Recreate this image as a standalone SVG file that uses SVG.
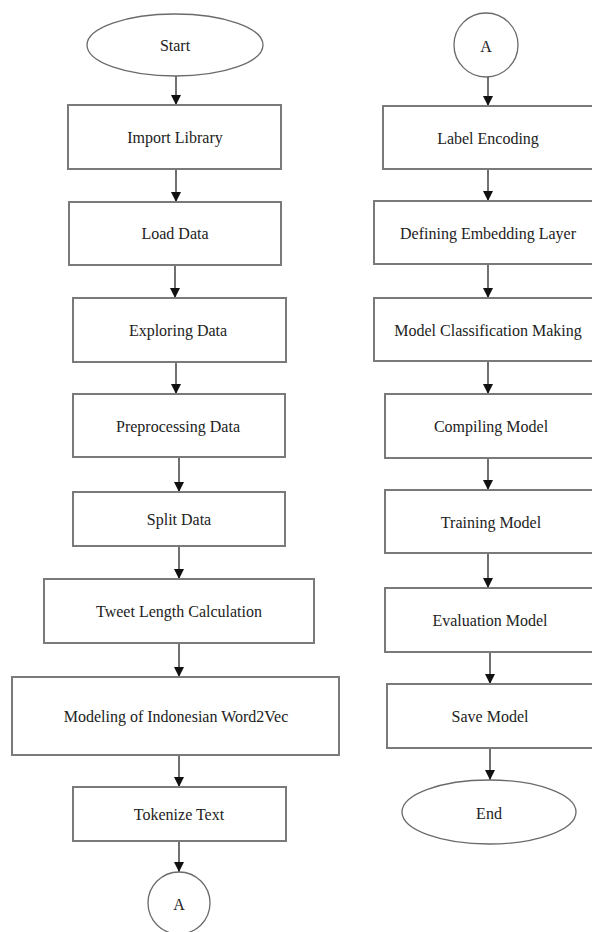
<svg xmlns="http://www.w3.org/2000/svg" width="592" height="932" viewBox="0 0 592 932">
<style>
.box{fill:#fff;stroke:#7a7a7a;stroke-width:2}
.term{fill:#fff;stroke:#6a6a6a;stroke-width:1.3}
.lbl{font-family:"Liberation Serif","Times New Roman",serif;font-size:16px;fill:#222;text-anchor:middle;dominant-baseline:central}
.con{stroke:#111;stroke-width:1.2;fill:none;marker-end:url(#ah)}
</style>
<defs>
<marker id="ah" markerUnits="userSpaceOnUse" markerWidth="10" markerHeight="10" viewBox="0 0 10 10" refX="10" refY="5" orient="auto">
<path d="M0,0 L10,5 L0,10 Z" fill="#111"/>
</marker>
</defs>
<rect width="592" height="932" fill="#fff"/>
<g id="connectors">
<line class="con" x1="176" y1="76" x2="176" y2="105"/>
<line class="con" x1="176" y1="169" x2="176" y2="202"/>
<line class="con" x1="175" y1="265" x2="175" y2="298"/>
<line class="con" x1="176" y1="362" x2="176" y2="394"/>
<line class="con" x1="179" y1="457" x2="179" y2="492"/>
<line class="con" x1="179" y1="546" x2="179" y2="579"/>
<line class="con" x1="179" y1="643" x2="179" y2="677"/>
<line class="con" x1="179" y1="755" x2="179" y2="787"/>
<line class="con" x1="179" y1="841" x2="179" y2="872"/>
<line class="con" x1="488" y1="77" x2="488" y2="106"/>
<line class="con" x1="488" y1="169" x2="488" y2="201"/>
<line class="con" x1="488" y1="264" x2="488" y2="298"/>
<line class="con" x1="488" y1="361" x2="488" y2="394"/>
<line class="con" x1="488" y1="458" x2="488" y2="490"/>
<line class="con" x1="488" y1="553" x2="488" y2="588"/>
<line class="con" x1="490" y1="652" x2="490" y2="684"/>
<line class="con" x1="490" y1="748" x2="490" y2="780"/>
</g>
<g id="start"><ellipse class="term" cx="175" cy="45" rx="88" ry="31"/><text class="lbl" x="175" y="45">Start</text></g>
<g id="import"><rect class="box" x="68" y="105" width="213" height="64"/><text class="lbl" x="175" y="137">Import Library</text></g>
<g id="load"><rect class="box" x="69" y="202" width="212" height="63"/><text class="lbl" x="175" y="233">Load Data</text></g>
<g id="explore"><rect class="box" x="73" y="298" width="213" height="64"/><text class="lbl" x="178" y="330">Exploring Data</text></g>
<g id="preprocess"><rect class="box" x="73" y="394" width="212" height="63"/><text class="lbl" x="178" y="426">Preprocessing Data</text></g>
<g id="split"><rect class="box" x="73" y="492" width="212" height="54"/><text class="lbl" x="179" y="519">Split Data</text></g>
<g id="tweet"><rect class="box" x="44" y="579" width="270" height="64"/><text class="lbl" x="179" y="611">Tweet Length Calculation</text></g>
<g id="word2vec"><rect class="box" x="12" y="677" width="327" height="78"/><text class="lbl" x="176" y="716">Modeling of Indonesian Word2Vec</text></g>
<g id="tokenize"><rect class="box" x="73" y="787" width="213" height="54"/><text class="lbl" x="179" y="814">Tokenize Text</text></g>
<g id="connA1"><circle class="term" cx="179" cy="903" r="31"/><text class="lbl" x="179" y="904">A</text></g>
<g id="connA2"><circle class="term" cx="486" cy="45" r="32"/><text class="lbl" x="486" y="46">A</text></g>
<g id="labelenc"><rect class="box" x="383" y="106" width="220" height="63"/><text class="lbl" x="488" y="138">Label Encoding</text></g>
<g id="embedding"><rect class="box" x="374" y="201" width="229" height="63"/><text class="lbl" x="488" y="233">Defining Embedding Layer</text></g>
<g id="classif"><rect class="box" x="374" y="298" width="229" height="63"/><text class="lbl" x="488" y="330">Model Classification Making</text></g>
<g id="compile"><rect class="box" x="385" y="394" width="218" height="64"/><text class="lbl" x="491" y="426">Compiling Model</text></g>
<g id="train"><rect class="box" x="385" y="490" width="218" height="63"/><text class="lbl" x="491" y="522">Training Model</text></g>
<g id="eval"><rect class="box" x="385" y="588" width="218" height="64"/><text class="lbl" x="490" y="620">Evaluation Model</text></g>
<g id="save"><rect class="box" x="387" y="684" width="216" height="64"/><text class="lbl" x="490" y="716">Save Model</text></g>
<g id="end"><ellipse class="term" cx="489" cy="812" rx="87" ry="32"/><text class="lbl" x="489" y="813">End</text></g>
</svg>
